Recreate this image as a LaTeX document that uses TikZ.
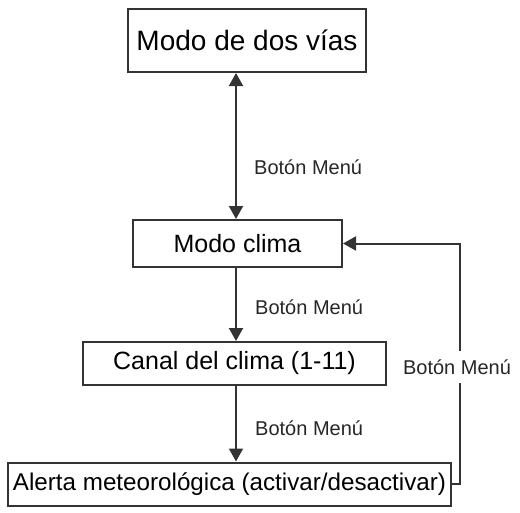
\documentclass[tikz,border=0pt]{standalone}
\usepackage{fontspec}
\setmainfont{Liberation Sans}
\usetikzlibrary{arrows.meta}
\begin{document}
\begin{tikzpicture}[x=1pt,y=-1pt,
  box/.style={draw=black!80,line width=2pt,fill=white,inner sep=0pt,anchor=center},
  lbl/.style={font=\fontsize{20}{24}\selectfont,inner sep=0pt,text=black!85},
  conn/.style={draw=black!80,line width=2pt},
  tip/.style={-{Triangle[length=13pt,width=14pt]}}]
\useasboundingbox (0,0) rectangle (520,512);
\node[box,minimum width=238pt,minimum height=63pt,font=\fontsize{28}{32}\selectfont] (b1) at (247,40.5) {Modo de dos vías};
\node[box,minimum width=209pt,minimum height=47pt,font=\fontsize{25}{30}\selectfont] (b2) at (237.5,243.5) {Modo clima};
\node[box,minimum width=303pt,minimum height=43pt,font=\fontsize{25}{30}\selectfont] (b3) at (234.5,363.5) {Canal del clima (1-11)};
\node[box,minimum width=443pt,minimum height=43pt,font=\fontsize{24.2}{28}\selectfont] (b4) at (229.5,484) {Alerta meteorológica (activar/desactivar)};
\coordinate (a1) at (236,0);
\draw[conn,{Triangle[length=13pt,width=14pt]}-{Triangle[length=13pt,width=14pt]}] (a1 |- b1.south) -- (a1 |- b2.north);
\draw[conn,tip] (a1 |- b2.south) -- (a1 |- b3.north);
\draw[conn,tip] (a1 |- b3.south) -- (a1 |- b4.north);
\coordinate (r) at (460,0);
\draw[conn,tip] (b4.east) -- (r |- b4.east) -- (r |- b2.east) -- (b2.east);
\node[lbl,anchor=west] (l1) at (254,167) {Botón Menú};
\node[lbl,anchor=west] (l2) at (255,307) {Botón Menú};
\node[lbl,anchor=west] (l3) at (255,428) {Botón Menú};
\node[lbl,fill=white,inner ysep=9pt,inner xsep=2pt] (l4) at (457,367) {Botón Menú};
\end{tikzpicture}
\end{document}
